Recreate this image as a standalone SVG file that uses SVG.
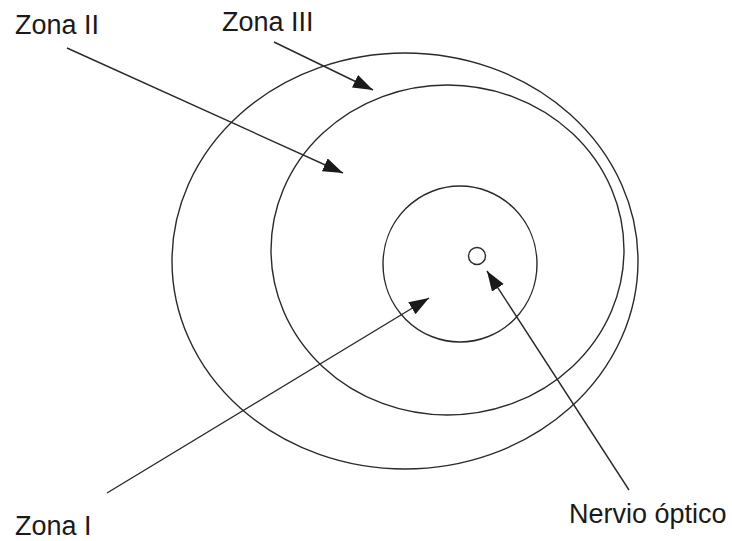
<svg xmlns="http://www.w3.org/2000/svg" width="732" height="541" viewBox="0 0 732 541">
<style>
.ring{fill:none;stroke:#2a2a2a;stroke-width:1.4}
.lbl{font-family:"Liberation Sans",Arial,sans-serif;font-size:27px;fill:#1a1a1a}
.conn{stroke:#2a2a2a;stroke-width:1.4;fill:none;marker-end:url(#ah)}
</style>
<defs>
<marker id="ah" markerUnits="userSpaceOnUse" markerWidth="21" markerHeight="15" refX="20" refY="7" orient="auto" viewBox="0 0 21 15">
<path d="M0,0 L20,7 L0,14 z" fill="#1a1a1a"/>
</marker>
</defs>
<rect width="732" height="541" fill="#fff"/>
<g id="zona3"><ellipse class="ring" cx="405" cy="261" rx="233" ry="208"/></g>
<g id="zona2"><ellipse class="ring" cx="447.5" cy="250" rx="176.5" ry="165"/></g>
<g id="zona1"><ellipse class="ring" cx="460" cy="264" rx="77" ry="78"/></g>
<g id="nervio"><circle class="ring" cx="477" cy="256" r="8.5"/></g>
<g id="labels">
<text id="lbl-zona2" class="lbl" x="15" y="34">Zona II</text>
<text id="lbl-zona3" class="lbl" x="222" y="31">Zona III</text>
<text id="lbl-zona1" class="lbl" x="15" y="535">Zona I</text>
<text id="lbl-nervio" class="lbl" x="569" y="523">Nervio óptico</text>
</g>
<g id="connectors">
<line class="conn" x1="274" y1="42" x2="373" y2="90"/>
<line class="conn" x1="67" y1="48" x2="343" y2="173"/>
<line class="conn" x1="107" y1="493" x2="429" y2="298"/>
<line class="conn" x1="629" y1="490" x2="487" y2="271"/>
</g>
</svg>
